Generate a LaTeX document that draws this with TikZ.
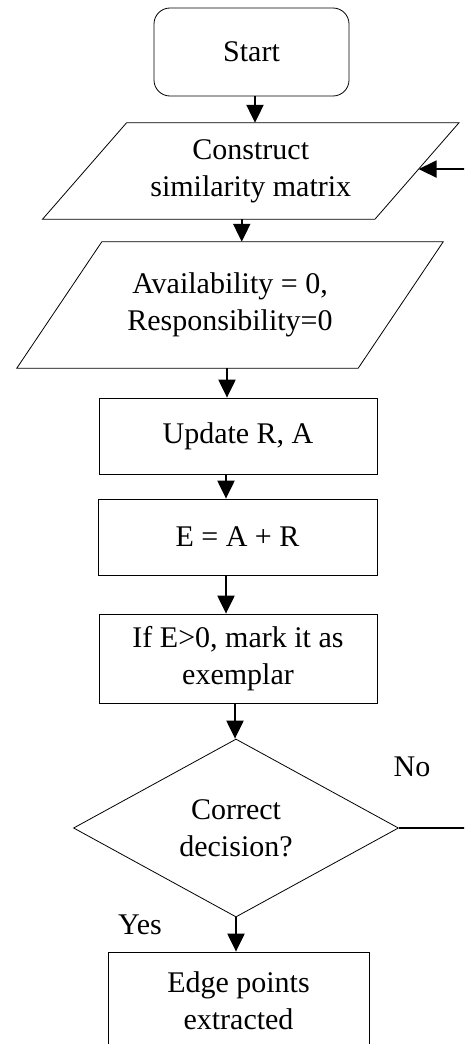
\documentclass[tikz,border=0pt]{standalone}
\usepackage{fontspec}
\setmainfont{Liberation Serif}
\usetikzlibrary{shapes.geometric,arrows.meta,calc}

\tikzset{
  kasten/.style={draw, line width=0.8pt, align=center, inner sep=0pt},
  eingabe/.style={align=center, inner sep=0pt},
  rand/.style={line width=0.8pt},
  pfeil/.style={line width=2.2pt, -{Triangle[length=18pt,width=17pt]}},
}

\begin{document}
\begin{tikzpicture}[x=1pt,y=-1pt,font=\fontsize{30}{37}\selectfont]
        % Umgebung
        \useasboundingbox (0,0) rectangle (464,1044);
        \clip (0,0) rectangle (464,1044);

        % Start
        \node[kasten, rounded corners=16pt, minimum width=195pt, minimum height=88pt] (start) at (251.5,52) {Start};

        % Eingaben
        \node[eingabe, minimum width=332pt, minimum height=96pt] (konstr) at (250.75,171) {Construct\\similarity matrix};
        \draw[rand] ([xshift=-42pt]konstr.south west) -- ([xshift=-42pt]konstr.south east)
            -- ([xshift=42pt]konstr.north east) -- ([xshift=42pt]konstr.north west) -- cycle;
        \coordinate (konstr-r) at ($([xshift=-42pt]konstr.south east)!0.52!([xshift=42pt]konstr.north east)$);

        \node[eingabe, minimum width=341pt, minimum height=126pt] (init) at (230,305) {Availability = 0,\\Responsibility=0};
        \draw[rand] ([xshift=-42.5pt]init.south west) -- ([xshift=-42.5pt]init.south east)
            -- ([xshift=42.5pt]init.north east) -- ([xshift=42.5pt]init.north west) -- cycle;

        % Schritte
        \node[kasten, minimum width=278pt, minimum height=76pt] (update) at (238,436) {Update R, A};
        \node[kasten, minimum width=279pt, minimum height=76pt] (summe) at (237.5,537) {E = A + R};
        \node[kasten, minimum width=278pt, minimum height=89pt] (exemplar) at (238,658.5) {If E>0, mark it as\\exemplar};

        % Entscheidung
        \node[kasten, diamond, aspect=1.8, minimum width=325pt, minimum height=178pt] (entsch) at (236,828) {Correct\\decision?};
        \node (nein) at (412,767) {No};
        \node (ja) at (140,925) {Yes};

        % Ende
        \node[kasten, minimum width=261pt, minimum height=98pt] (kanten) at (238.5,1001) {Edge points\\extracted};
        \coordinate (rueck) at (485,828);

        % Pfeile
        \draw[pfeil] ([xshift=3.5pt]start.south) -- ([xshift=3.5pt]start.south |- konstr.north);
        \draw[pfeil] ([xshift=-9pt]konstr.south) -- ([xshift=-9pt]konstr.south |- init.north);
        \draw[pfeil] ([xshift=-3pt]init.south) -- ([xshift=-3pt]init.south |- update.north);
        \draw[pfeil] ([xshift=-12pt]update.south) -- ([xshift=-12pt]update.south |- summe.north);
        \draw[pfeil] ([xshift=-11.5pt]summe.south) -- ([xshift=-11.5pt]summe.south |- exemplar.north);
        \draw[pfeil] ([xshift=-3pt]exemplar.south) -- ([xshift=-3pt]exemplar.south |- entsch.north);
        \draw[pfeil] (entsch.south) -- (entsch.south |- kanten.north);

        % Rueckfuehrung
        \draw[pfeil] (entsch.east) -- (entsch.east -| rueck) |- (konstr-r);

    \end{tikzpicture}
\end{document}
